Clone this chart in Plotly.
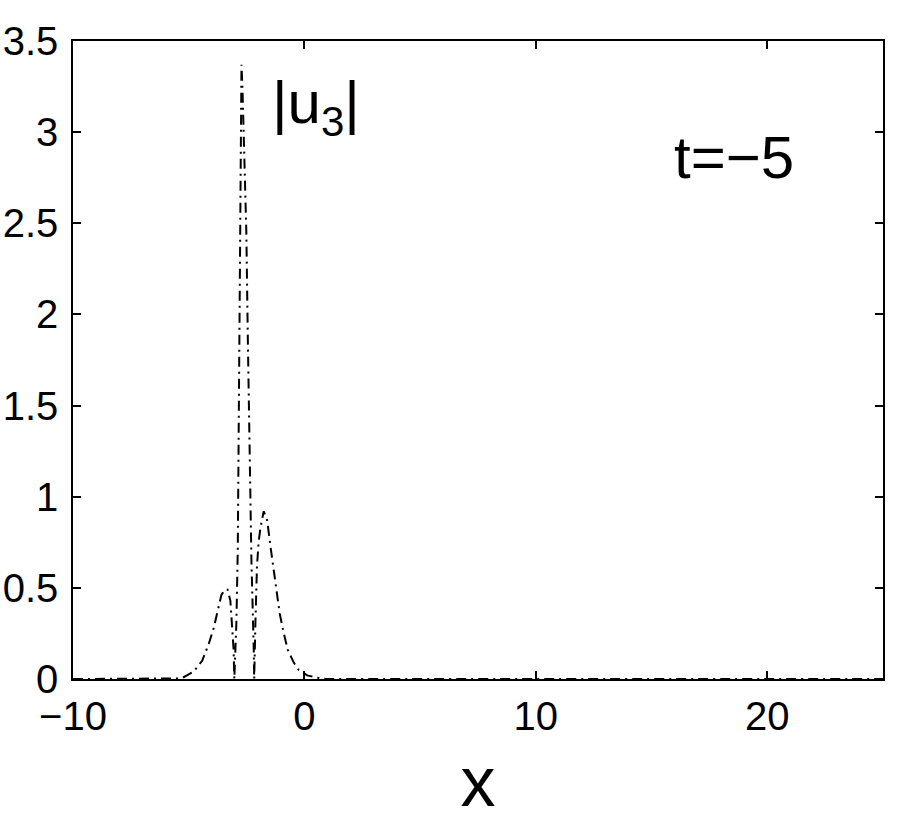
import plotly.graph_objects as go

# |u3| profile at t = -5
x_vals = [-10, -6, -5.5, -5.22, -4.79, -4.42, -4.14, -3.92, -3.77, -3.59, -3.45, -3.32,
          -3.2, -3.13, -3.06, -3.03, -2.94, -2.88, -2.84, -2.77, -2.72, -2.68, -2.60,
          -2.51, -2.45, -2.38, -2.29, -2.19, -2.17, -2.12, -2.05, -1.98, -1.90, -1.76,
          -1.61, -1.47, -1.33, -1.21, -1.07, -0.89, -0.72, -0.46, -0.25, 0.12, 0.5,
          0.9, 25]
u3_vals = [0, 0, 0.003, 0.01, 0.04, 0.10, 0.19, 0.28, 0.36, 0.46, 0.49, 0.49,
           0.43, 0.31, 0.16, 0.0, 0.31, 0.71, 1.26, 2.45, 3.37, 3.25, 2.85,
           2.45, 1.9, 1.26, 0.65, 0.16, 0.0, 0.30, 0.62, 0.75, 0.83, 0.92,
           0.87, 0.73, 0.60, 0.49, 0.36, 0.25, 0.16, 0.09, 0.05, 0.02, 0.008,
           0.0, 0]

x_ticks = [-10, 0, 10, 20]
x_tick_text = ["\u221210", "0", "10", "20"]
y_ticks = [0, 0.5, 1, 1.5, 2, 2.5, 3, 3.5]
y_tick_text = ["0", "0.5", "1", "1.5", "2", "2.5", "3", "3.5"]

FONT = "Liberation Sans, Arial, Helvetica, sans-serif"

fig = go.Figure()
fig.add_trace(go.Scatter(
    x=x_vals, y=u3_vals, mode="lines",
    line=dict(color="black", width=2, dash="10px,5px,2px,5px"),
    showlegend=False, hoverinfo="skip",
))

axis_common = dict(
    showline=True, linecolor="black", linewidth=1.5, mirror="ticks",
    ticks="inside", ticklen=8, tickwidth=1.5, tickcolor="black",
    showgrid=False, zeroline=False, automargin=False,
    tickfont=dict(family=FONT, size=40, color="black"),
)

fig.update_xaxes(range=[-10, 25], tickvals=x_ticks, ticktext=x_tick_text,
                 ticklabelstandoff=1,
                 title=dict(text="x", font=dict(family=FONT, size=70, color="black"),
                            standoff=20),
                 **axis_common)
fig.update_yaxes(range=[0, 3.5], tickvals=y_ticks, ticktext=y_tick_text,
                 ticklabelstandoff=5, **axis_common)

fig.add_annotation(x=0.48, y=3.14, xref="x", yref="y", showarrow=False,
                   text="|u<sub>3</sub>|", xanchor="center", yanchor="middle",
                   font=dict(family=FONT, size=60, color="black"))
fig.add_annotation(x=15.9, y=2.86, xref="x", yref="y", showarrow=False,
                   text="t=\u22125", xanchor="left", yanchor="middle",
                   font=dict(family=FONT, size=60, color="black"))

fig.update_layout(
    width=900, height=826,
    margin=dict(l=73, r=17, t=41, b=147, pad=0),
    paper_bgcolor="white", plot_bgcolor="white",
    font=dict(family=FONT, color="black"),
)

fig.write_html("out.html", config={"displayModeBar": False},
               post_script="document.body.style.margin='0px';")
